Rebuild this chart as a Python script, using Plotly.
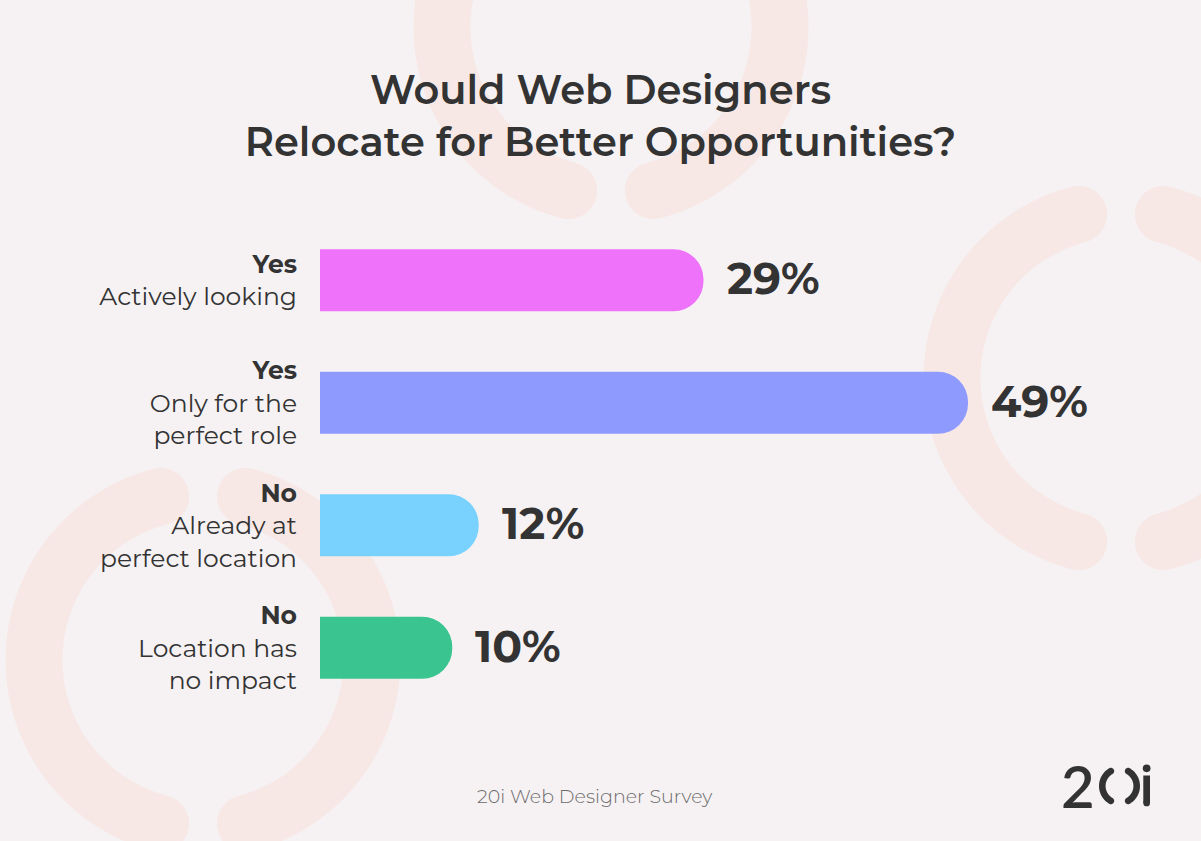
import numpy as np
import plotly.graph_objects as go

# ---------------- data ----------------
answers = ["Yes", "Yes", "No", "No"]
details = ["Actively looking", "Only for the<br>perfect role",
           "Already at<br>perfect location", "Location has<br>no impact"]
values = [29, 49, 12, 10]
bar_colors = ["#EF72FA", "#8F9AFE", "#79D2FE", "#3AC48F"]
title_text = "Would Web Designers<br>Relocate for Better Opportunities?"
source_text = "20i Web Designer Survey"

# ---------------- layout constants ----------------
W, H = 1201, 841
ML, MR, MT, MB = 320, 0, 219, 132
PW, PH = W - ML - MR, H - MT - MB
PX_PER_PCT = 648 / 49.0
BG = "#F6F2F3"
DECO = "#F7E8E6"
INK = "#333333"
FONT = "Montserrat, 'Open Sans', sans-serif"


def px2paper(px, py):
    return (px - ML) / PW, 1 - (py - MT) / PH


def ring_arc_path(cx, cy, r, w, a0, a1, n=60):
    """closed polygon of a thick arc with round caps (pixel coords -> paper)"""
    pts = []
    ro, ri, h = r + w / 2, r - w / 2, w / 2
    ts = np.radians(np.linspace(a0, a1, n))
    for t in ts:
        pts.append((cx + ro * np.cos(t), cy + ro * np.sin(t)))
    t1 = np.radians(a1)
    u = np.array([np.cos(t1), np.sin(t1)]); v = np.array([-np.sin(t1), np.cos(t1)])
    c = np.array([cx + r * np.cos(t1), cy + r * np.sin(t1)])
    for ph in np.linspace(0, np.pi, 20):
        p = c + h * (np.cos(ph) * u + np.sin(ph) * v)
        pts.append(tuple(p))
    for t in ts[::-1]:
        pts.append((cx + ri * np.cos(t), cy + ri * np.sin(t)))
    t0 = np.radians(a0)
    u = np.array([np.cos(t0), np.sin(t0)]); v = np.array([-np.sin(t0), np.cos(t0)])
    c = np.array([cx + r * np.cos(t0), cy + r * np.sin(t0)])
    for ph in np.linspace(0, np.pi, 20):
        p = c + h * (-np.cos(ph) * u - np.sin(ph) * v)
        pts.append(tuple(p))
    s = ""
    for i, (x, y) in enumerate(pts):
        X, Y = px2paper(x, y)
        s += ("M" if i == 0 else "L") + f"{X:.5f},{Y:.5f} "
    return s + "Z"


def split_ring(cx, cy, r, w, gap, color, layer="below"):
    out = []
    for a0, a1 in [(90 + gap, 270 - gap), (-90 + gap, 90 - gap)]:
        out.append(dict(type="path", xref="paper", yref="paper", layer=layer,
                        path=ring_arc_path(cx, cy, r, w, a0, a1),
                        fillcolor=color, line=dict(width=0)))
    return out


shapes = []
shapes += split_ring(611, 27, 169, 57, 14.5, DECO)
shapes += split_ring(1121, 378, 169, 57, 14.5, DECO)
shapes += split_ring(203, 660, 169, 57, 14.5, DECO)

# logo "()" and "i"
shapes += split_ring(1119.5, 786, 17.2, 6.6, 30, INK, layer="above")
x0, y0 = px2paper(1143.3, 775.5); x1, y1 = px2paper(1150.0, 803)
shapes.append(dict(type="rect", xref="paper", yref="paper", x0=x0, x1=x1, y0=y0, y1=y1,
                   fillcolor=INK, line=dict(width=0)))
x0, y0 = px2paper(1143.3, 799.6); x1, y1 = px2paper(1150.0, 806.3)
shapes.append(dict(type="circle", xref="paper", yref="paper", x0=x0, x1=x1, y0=y0, y1=y1,
                   fillcolor=INK, line=dict(width=0)))
x0, y0 = px2paper(1142.8, 764.5); x1, y1 = px2paper(1150.5, 772.2)
shapes.append(dict(type="circle", xref="paper", yref="paper", x0=x0, x1=x1, y0=y0, y1=y1,
                   fillcolor=INK, line=dict(width=0)))

ypos = list(range(len(values)))
ticktext = [f"<b>{a}</b><br>{d}" for a, d in zip(answers, details)]

fig = go.Figure()
fig.add_trace(go.Bar(
    x=values, y=ypos, orientation="h", width=0.505,
    marker=dict(color=bar_colors, line=dict(width=0)),
    hoverinfo="skip",
))

annotations = []
for v, y in zip(values, ypos):
    annotations.append(dict(
        x=v, y=y, xref="x", yref="y", text=f"<b>{v}%</b>", showarrow=False,
        xanchor="left", yanchor="middle", xshift=21, yshift=2,
        font=dict(family=FONT, size=44, color=INK)))

sx, sy = px2paper(594, 796)
annotations.append(dict(x=sx, y=sy, xref="paper", yref="paper", text=source_text,
                        showarrow=False, xanchor="center", yanchor="middle",
                        font=dict(family=FONT, size=19, color="#6B6B6B", weight=300)))
lx, ly = px2paper(1077.5, 785)
annotations.append(dict(x=lx, y=ly, xref="paper", yref="paper", text="2",
                        showarrow=False, xanchor="center", yanchor="middle",
                        font=dict(family="Lato, sans-serif", size=58, color=INK, weight=600)))

fig.update_layout(
    width=W, height=H,
    margin=dict(l=ML, r=MR, t=MT, b=MB, pad=0),
    paper_bgcolor=BG, plot_bgcolor="rgba(0,0,0,0)",
    barcornerradius="50%",
    showlegend=False,
    title=dict(text=title_text, x=0.5, xref="container", xanchor="center",
               y=1 - 104 / H, yref="container", yanchor="middle",
               font=dict(family=FONT, size=40, color=INK, weight=600)),
    xaxis=dict(range=[0, PW / PX_PER_PCT], visible=False, fixedrange=True),
    yaxis=dict(range=[len(values) - 0.5, -0.5], tickvals=ypos, ticktext=ticktext,
               showgrid=False, zeroline=False, showline=False, ticks="",
               ticklabelstandoff=22, fixedrange=True,
               tickfont=dict(family=FONT, size=25, color=INK)),
    shapes=shapes,
    annotations=annotations,
)

fig.write_html("out.html", config={"displayModeBar": False},
               post_script="document.body.style.margin='0';")
